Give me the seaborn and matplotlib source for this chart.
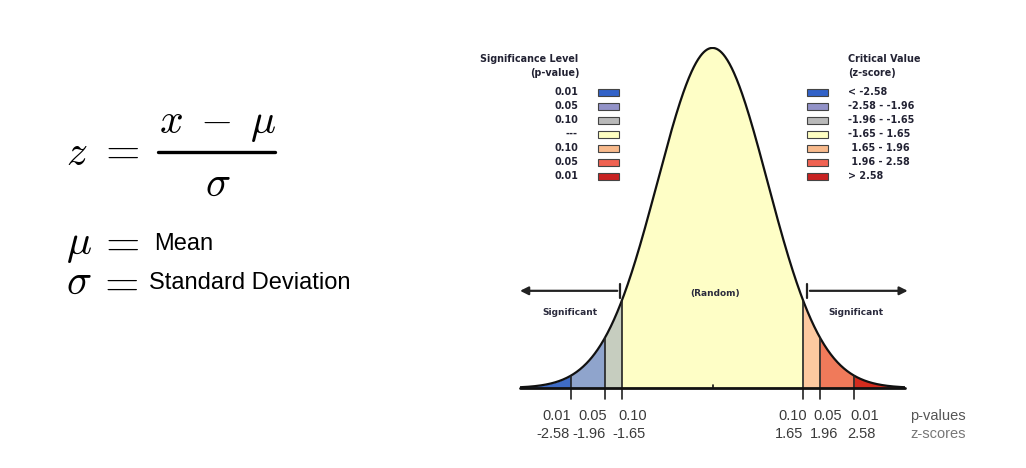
import numpy as np
import pandas as pd
import seaborn as sns
import matplotlib.pyplot as plt

# cut points (z-scores) and matching p-values
z_cuts = [-2.58, -1.96, -1.65, 1.65, 1.96, 2.58]
p_cuts = ["0.01", "0.05", "0.10", "0.10", "0.05", "0.01"]
z_labels = ["-2.58", "-1.96", "-1.65", "1.65", "1.96", "2.58"]

# regions of the curve, left to right
fill_colors = ["#3f6cc6", "#8fa4cc", "#c6cdbf", "#fefec6", "#fdc9a0", "#f07a5a", "#d42c1e"]
swatch_colors = ["#3262c8", "#9292c8", "#b9b9b9", "#ffffc2", "#f8ba8c", "#f06252", "#c82222"]
sig_labels = ["0.01", "0.05", "0.10", "---", "0.10", "0.05", "0.01"]
crit_labels = ["< -2.58", "-2.58 - -1.96", "-1.96 - -1.65", "-1.65 - 1.65",
               " 1.65 - 1.96", " 1.96 - 2.58", "> 2.58"]

sns.set_theme(style="white")
plt.rcParams["mathtext.fontset"] = "cm"

W, H = 1026, 468
fig = plt.figure(figsize=(W / 100, H / 100), dpi=100)


def fp(x, y):
    # pixel position (from top-left) -> figure fraction
    return x / W, 1 - y / H


# axes: x -3.5..3.5 over px 520..905, y 0..0.4 over px 388..47
ax = fig.add_axes([520 / W, (H - 388) / H, 385 / W, 341 / H])
ax.set_xlim(-3.5, 3.5)
ax.set_ylim(0, 0.4)
ax.axis("off")

z = np.linspace(-3.5, 3.5, 701)
df = pd.DataFrame({"z": z, "density": np.exp(-z ** 2 / 2) / np.sqrt(2 * np.pi)})

edges = [-3.5] + z_cuts + [3.5]
for i, c in enumerate(fill_colors):
    m = (df["z"] >= edges[i] - 1e-9) & (df["z"] <= edges[i + 1] + 1e-9)
    ax.fill_between(df["z"][m], 0, df["density"][m], color=c, lw=0)

sns.lineplot(data=df, x="z", y="density", ax=ax, color="#111111", lw=1.6)

for zc in z_cuts:
    h = np.exp(-zc ** 2 / 2) / np.sqrt(2 * np.pi)
    ax.plot([zc, zc], [0, h], color="#222222", lw=1.2)
    ax.plot([zc, zc], [0, -0.013], color="#222222", lw=1.2, clip_on=False)
ax.plot([-3.5, 3.5], [0, 0], color="#111111", lw=2, clip_on=False)
ax.plot([0, 0], [0, 0.004], color="#111111", lw=1.2)

# arrows
ax.annotate("", xy=(-3.55, 0.114), xytext=(-1.68, 0.114),
            arrowprops=dict(arrowstyle="-|>", color="#222222", lw=1.6, mutation_scale=12),
            annotation_clip=False)
ax.plot([-1.68, -1.68], [0.105, 0.122], color="#222222", lw=1.6, clip_on=False)
ax.annotate("", xy=(3.6, 0.114), xytext=(1.72, 0.114),
            arrowprops=dict(arrowstyle="-|>", color="#222222", lw=1.6, mutation_scale=12),
            annotation_clip=False)
ax.plot([1.72, 1.72], [0.105, 0.122], color="#222222", lw=1.6, clip_on=False)

bold = dict(family="DejaVu Sans", weight="bold", fontsize=6.5, color="#2b2b3d")
ax.text(-2.6, 0.088, "Significant", ha="center", va="center", **bold)
ax.text(2.6, 0.088, "Significant", ha="center", va="center", **bold)
ax.text(0.05, 0.111, "(Random)", ha="center", va="center", **bold)

# tick labels under the curve
lab_px = [557, 593, 633, 793, 828, 865]
lab = dict(family="Liberation Sans", fontsize=10.5, color="#3a3a3a", ha="center", va="center")
for xp, p, zl in zip(lab_px, p_cuts, z_labels):
    fig.text(*fp(xp, 416), p, **lab)
    fig.text(*fp(xp - 4, 434), zl, **lab)
fig.text(*fp(910, 416), "p-values", family="Liberation Sans", fontsize=10.5,
         color="#555555", ha="left", va="center")
fig.text(*fp(910, 434), "z-scores", family="Liberation Sans", fontsize=10.5,
         color="#777777", ha="left", va="center")

# legends
leg = dict(family="DejaVu Sans", weight="bold", fontsize=6.9, color="#222233", va="center")
fig.text(*fp(578, 59), "Significance Level", ha="right", **leg)
fig.text(*fp(580, 73), "(p-value)", ha="right", **leg)
fig.text(*fp(848, 59), "Critical Value", ha="left", **leg)
fig.text(*fp(848, 73), "(z-score)", ha="left", **leg)
for i in range(7):
    yc = 92 + 14 * i
    fig.text(*fp(578, yc), sig_labels[i], ha="right", **leg)
    fig.text(*fp(848, yc), crit_labels[i], ha="left", **leg)
    for x0 in (598, 807):
        fig.patches.append(plt.Rectangle(fp(x0, yc + 3.5), 21 / W, 7 / H,
                                         transform=fig.transFigure, facecolor=swatch_colors[i],
                                         edgecolor="#444444", lw=0.8))

# formula on the left
math = dict(fontsize=30, color="black", ha="left")
eq = dict(fontsize=32, color="black", ha="left", va="center")
fig.text(*fp(66, 165), r"$z$", va="baseline", **math)
fig.text(*fp(98, 150), r"$=$", **eq)
fig.text(*fp(218, 133), r"$x\;-\;\mu$", fontsize=30, color="black", ha="center", va="baseline")
fig.lines.append(plt.Line2D([158 / W, 275 / W], [1 - 151.5 / H] * 2, transform=fig.transFigure,
                            color="black", lw=2.4))
fig.text(*fp(218, 196), r"$\sigma$", fontsize=30, color="black", ha="center", va="baseline")
fig.text(*fp(66, 254), r"$\mu$", va="baseline", **math)
fig.text(*fp(98, 242), r"$=$", **eq)
fig.text(*fp(66, 294), r"$\sigma$", va="baseline", **math)
fig.text(*fp(97, 282), r"$=$", **eq)
txt = dict(family="Liberation Sans", fontsize=17, color="black", ha="left", va="center")
fig.text(*fp(154, 244), "Mean", **txt)
fig.text(*fp(149, 283), "Standard Deviation", **txt)

fig.savefig("out.png", dpi=100)
